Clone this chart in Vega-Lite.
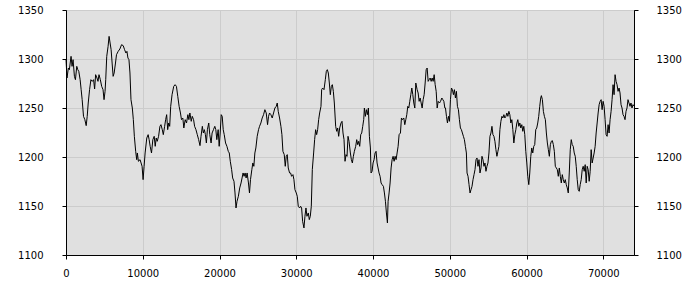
{
  "$schema": "https://vega.github.io/schema/vega-lite/v6.json",
  "width": 568,
  "height": 245,
  "autosize": {"type": "none"},
  "padding": {"left": 66, "top": 10, "right": 66, "bottom": 45},
  "background": "white",
  "config": {
    "view": {"stroke": "#000", "strokeWidth": 1, "fill": "#e0e0e0"},
    "axis": {
      "labelFont": "DejaVu Sans", "labelFontSize": 10, "labelColor": "#000",
      "domainColor": "#000", "tickColor": "#000", "tickSize": 4,
      "gridColor": "#cccccc", "gridWidth": 1, "title": null
    }
  },
  "data": {"values": [
    {"x":0,"v":1299.3},{"x":132,"v":1280.6},{"x":307,"v":1290.8},{"x":439,"v":1289.1},{"x":658,"v":1302.7},{"x":789,"v":1292.5},{"x":921,"v":1299.3},{"x":1097,"v":1282.3},{"x":1228,"v":1278.9},{"x":1404,"v":1292.5},{"x":1535,"v":1289.1},{"x":1667,"v":1287.4},{"x":1842,"v":1278.9},{"x":1974,"v":1268.7},{"x":2105,"v":1258.5},{"x":2281,"v":1241.5},{"x":2456,"v":1238.1},{"x":2632,"v":1232},{"x":2763,"v":1241.5},{"x":2895,"v":1255.1},{"x":3070,"v":1268.7},{"x":3246,"v":1278.9},{"x":3421,"v":1277.2},{"x":3597,"v":1278.9},{"x":3728,"v":1269.4},{"x":3860,"v":1284},{"x":4035,"v":1280.6},{"x":4167,"v":1277.2},{"x":4298,"v":1284},{"x":4474,"v":1278.9},{"x":4649,"v":1272.1},{"x":4825,"v":1268.7},{"x":4956,"v":1258.5},{"x":5088,"v":1267},{"x":5175,"v":1278.9},{"x":5307,"v":1302.7},{"x":5483,"v":1312.9},{"x":5614,"v":1323.1},{"x":5746,"v":1316.3},{"x":5877,"v":1309.5},{"x":6009,"v":1295.9},{"x":6140,"v":1282.3},{"x":6272,"v":1285.7},{"x":6447,"v":1295.9},{"x":6579,"v":1304.4},{"x":6798,"v":1307.8},{"x":7018,"v":1310.2},{"x":7237,"v":1314.6},{"x":7456,"v":1313.6},{"x":7632,"v":1309.5},{"x":7807,"v":1306.1},{"x":7939,"v":1307.8},{"x":8070,"v":1301},{"x":8202,"v":1299.3},{"x":8333,"v":1285.7},{"x":8465,"v":1258.5},{"x":8640,"v":1250},{"x":8772,"v":1238.1},{"x":8904,"v":1221.1},{"x":9079,"v":1205.8},{"x":9211,"v":1197.3},{"x":9298,"v":1204.1},{"x":9430,"v":1195.6},{"x":9649,"v":1197.3},{"x":9781,"v":1193.9},{"x":9912,"v":1190.5},{"x":10044,"v":1176.9},{"x":10176,"v":1190.5},{"x":10307,"v":1204.1},{"x":10526,"v":1219.4},{"x":10702,"v":1222.8},{"x":10833,"v":1217.7},{"x":10965,"v":1210.9},{"x":11140,"v":1204.1},{"x":11316,"v":1217.7},{"x":11491,"v":1221.1},{"x":11623,"v":1210.9},{"x":11754,"v":1219.4},{"x":11886,"v":1216},{"x":12062,"v":1221.1},{"x":12237,"v":1231.3},{"x":12369,"v":1233},{"x":12544,"v":1227.9},{"x":12676,"v":1222.8},{"x":12851,"v":1231.3},{"x":12983,"v":1238.1},{"x":13114,"v":1243.2},{"x":13246,"v":1227.9},{"x":13377,"v":1234.7},{"x":13509,"v":1231.3},{"x":13640,"v":1251.7},{"x":13816,"v":1263.6},{"x":14035,"v":1272.1},{"x":14211,"v":1273.8},{"x":14386,"v":1272.1},{"x":14562,"v":1261.9},{"x":14737,"v":1251.7},{"x":14912,"v":1244.9},{"x":15044,"v":1238.1},{"x":15219,"v":1239.8},{"x":15351,"v":1229.6},{"x":15526,"v":1238.1},{"x":15702,"v":1234.7},{"x":15877,"v":1243.2},{"x":16009,"v":1238.1},{"x":16140,"v":1244.9},{"x":16316,"v":1236.4},{"x":16448,"v":1241.5},{"x":16623,"v":1238.1},{"x":16755,"v":1231.3},{"x":16930,"v":1227.9},{"x":17105,"v":1222.8},{"x":17281,"v":1217.7},{"x":17456,"v":1211.6},{"x":17588,"v":1221.1},{"x":17763,"v":1231.3},{"x":17895,"v":1224.5},{"x":18026,"v":1227.9},{"x":18158,"v":1222.8},{"x":18290,"v":1214.3},{"x":18421,"v":1227.9},{"x":18597,"v":1234.7},{"x":18728,"v":1222.8},{"x":18904,"v":1214.3},{"x":19035,"v":1224.5},{"x":19211,"v":1227.9},{"x":19386,"v":1231.3},{"x":19518,"v":1227.9},{"x":19649,"v":1217.7},{"x":19825,"v":1227.9},{"x":19956,"v":1210.9},{"x":20088,"v":1224.5},{"x":20219,"v":1243.2},{"x":20351,"v":1241.5},{"x":20483,"v":1227.9},{"x":20614,"v":1222.8},{"x":20790,"v":1214.3},{"x":20965,"v":1210.9},{"x":21141,"v":1205.8},{"x":21272,"v":1204.1},{"x":21404,"v":1195.6},{"x":21579,"v":1187.1},{"x":21711,"v":1178.6},{"x":21886,"v":1175.2},{"x":22018,"v":1163.3},{"x":22149,"v":1148},{"x":22281,"v":1154.8},{"x":22456,"v":1159.9},{"x":22632,"v":1168.4},{"x":22807,"v":1173.5},{"x":22939,"v":1178.6},{"x":23070,"v":1183.7},{"x":23202,"v":1180.3},{"x":23334,"v":1183.7},{"x":23465,"v":1178.6},{"x":23597,"v":1183.7},{"x":23772,"v":1173.5},{"x":23904,"v":1163.3},{"x":24035,"v":1176.9},{"x":24211,"v":1187.1},{"x":24342,"v":1193.9},{"x":24474,"v":1190.5},{"x":24605,"v":1204.1},{"x":24737,"v":1209.2},
    {"x":24910,"v":1221.1},{"x":25085,"v":1227.9},{"x":25215,"v":1231.3},{"x":25389,"v":1234.7},{"x":25563,"v":1239.8},{"x":25737,"v":1243.2},{"x":25911,"v":1248.3},{"x":26085,"v":1244.9},{"x":26259,"v":1233},{"x":26390,"v":1241.5},{"x":26520,"v":1244.9},{"x":26694,"v":1243.2},{"x":26868,"v":1239.8},{"x":27042,"v":1244.9},{"x":27216,"v":1250},{"x":27390,"v":1251.7},{"x":27521,"v":1255.1},{"x":27651,"v":1246.6},{"x":27825,"v":1239.8},{"x":27999,"v":1231.3},{"x":28130,"v":1222.8},{"x":28260,"v":1205.8},{"x":28434,"v":1202.4},{"x":28565,"v":1190.5},{"x":28695,"v":1200.7},{"x":28826,"v":1202.4},{"x":28956,"v":1188.8},{"x":29130,"v":1183.7},{"x":29261,"v":1183.7},{"x":29391,"v":1180.3},{"x":29565,"v":1182},{"x":29696,"v":1176.9},{"x":29826,"v":1166.7},{"x":30000,"v":1163.3},{"x":30131,"v":1159.9},{"x":30261,"v":1149.7},{"x":30435,"v":1148},{"x":30566,"v":1149.7},{"x":30696,"v":1148},{"x":30827,"v":1134.4},{"x":31001,"v":1127.6},{"x":31131,"v":1139.5},{"x":31262,"v":1148},{"x":31392,"v":1139.5},{"x":31566,"v":1142.9},{"x":31697,"v":1136.1},{"x":31827,"v":1139.5},{"x":31958,"v":1149.7},{"x":32088,"v":1187.1},{"x":32262,"v":1204.1},{"x":32393,"v":1217.7},{"x":32523,"v":1227.9},{"x":32654,"v":1222.8},{"x":32784,"v":1227.9},{"x":32915,"v":1238.1},{"x":33045,"v":1244.9},{"x":33219,"v":1251.7},{"x":33306,"v":1268.7},{"x":33437,"v":1270.4},{"x":33611,"v":1268.7},{"x":33785,"v":1278.9},{"x":33915,"v":1287.4},{"x":34046,"v":1289.1},{"x":34176,"v":1285.7},{"x":34307,"v":1275.5},{"x":34437,"v":1263.6},{"x":34568,"v":1272.1},{"x":34698,"v":1273.8},{"x":34829,"v":1267},{"x":34959,"v":1255.1},{"x":35133,"v":1231.3},{"x":35264,"v":1226.2},{"x":35394,"v":1229.6},{"x":35525,"v":1221.1},{"x":35655,"v":1229.6},{"x":35829,"v":1234.7},{"x":35960,"v":1236.4},{"x":36090,"v":1224.5},{"x":36221,"v":1217.7},{"x":36351,"v":1195.6},{"x":36482,"v":1202.4},{"x":36612,"v":1200.7},{"x":36743,"v":1221.1},{"x":36873,"v":1216},{"x":37047,"v":1204.1},{"x":37178,"v":1197.3},{"x":37308,"v":1193.9},{"x":37439,"v":1200.7},{"x":37569,"v":1205.8},{"x":37743,"v":1210.9},{"x":37874,"v":1217.7},{"x":38004,"v":1212.6},{"x":38135,"v":1216},{"x":38265,"v":1210.9},{"x":38396,"v":1222.8},{"x":38526,"v":1224.5},{"x":38657,"v":1231.3},{"x":38787,"v":1238.1},{"x":38874,"v":1250},{"x":39005,"v":1241.5},{"x":39135,"v":1248.3},{"x":39266,"v":1243.2},{"x":39396,"v":1250},{"x":39527,"v":1221.1},{"x":39657,"v":1209.2},{"x":39744,"v":1183.7},{"x":39875,"v":1185.4},{"x":40005,"v":1193.9},{"x":40136,"v":1197.3},{"x":40266,"v":1204.1},{"x":40397,"v":1205.8},{"x":40527,"v":1193.9},{"x":40658,"v":1188.8},{"x":40788,"v":1183.7},{"x":40919,"v":1180.3},{"x":41049,"v":1173.5},{"x":41180,"v":1171.8},{"x":41354,"v":1170.1},{"x":41484,"v":1163.3},{"x":41615,"v":1154.8},{"x":41745,"v":1142.9},{"x":41876,"v":1132.7},{"x":41963,"v":1154.8},{"x":42093,"v":1163.3},{"x":42224,"v":1173.5},{"x":42354,"v":1188.8},{"x":42485,"v":1197.3},{"x":42615,"v":1200.7},{"x":42746,"v":1195.6},{"x":42876,"v":1200.7},{"x":43007,"v":1197.3},{"x":43137,"v":1204.1},{"x":43268,"v":1210.9},{"x":43398,"v":1222.8},{"x":43572,"v":1224.5},{"x":43703,"v":1239.8},{"x":43833,"v":1238.1},{"x":44007,"v":1239.8},{"x":44138,"v":1233},{"x":44268,"v":1238.1},{"x":44399,"v":1243.2},{"x":44529,"v":1251.7},{"x":44660,"v":1250},{"x":44790,"v":1256.8},{"x":44921,"v":1263.6},{"x":45051,"v":1270.4},{"x":45182,"v":1263.6},{"x":45312,"v":1255.1},{"x":45443,"v":1250},{"x":45573,"v":1275.5},{"x":45747,"v":1268.7},{"x":45878,"v":1265.3},{"x":46008,"v":1256.8},{"x":46139,"v":1260.2},{"x":46269,"v":1255.1},{"x":46400,"v":1250},{"x":46530,"v":1258.5},{"x":46661,"v":1263.6},{"x":46791,"v":1275.5},{"x":46922,"v":1289.1},{"x":47052,"v":1290.8},{"x":47183,"v":1277.2},{"x":47313,"v":1278.9},{"x":47444,"v":1280.6},{"x":47574,"v":1277.2},{"x":47705,"v":1280.6},{"x":47835,"v":1277.2},{"x":47966,"v":1284},{"x":48096,"v":1273.8},{"x":48227,"v":1267},{"x":48357,"v":1250},{"x":48488,"v":1256.8},{"x":48662,"v":1255.1},{"x":48792,"v":1256.8},{"x":48966,"v":1260.2},{"x":49097,"v":1258.5},{"x":49227,"v":1256.8},{"x":49358,"v":1250},
    {"x":49438,"v":1250},{"x":49568,"v":1241.5},{"x":49697,"v":1234.7},{"x":49827,"v":1241.5},{"x":49957,"v":1236.4},{"x":50086,"v":1258.5},{"x":50216,"v":1270.4},{"x":50346,"v":1268.7},{"x":50476,"v":1263.6},{"x":50605,"v":1268.7},{"x":50735,"v":1260.2},{"x":50865,"v":1267},{"x":50995,"v":1251.7},{"x":51124,"v":1248.3},{"x":51254,"v":1238.1},{"x":51384,"v":1229.6},{"x":51513,"v":1227.9},{"x":51643,"v":1224.5},{"x":51773,"v":1221.1},{"x":51903,"v":1217.7},{"x":52032,"v":1210.9},{"x":52162,"v":1204.1},{"x":52248,"v":1183.7},{"x":52378,"v":1180.3},{"x":52508,"v":1171.8},{"x":52638,"v":1163.3},{"x":52767,"v":1166.7},{"x":52897,"v":1170.1},{"x":53027,"v":1176.9},{"x":53157,"v":1182},{"x":53286,"v":1187.1},{"x":53416,"v":1197.3},{"x":53546,"v":1199},{"x":53675,"v":1190.5},{"x":53805,"v":1197.3},{"x":53935,"v":1183.7},{"x":54065,"v":1188.8},{"x":54194,"v":1200.7},{"x":54324,"v":1197.3},{"x":54454,"v":1190.5},{"x":54583,"v":1193.9},{"x":54713,"v":1185.4},{"x":54843,"v":1190.5},{"x":54973,"v":1193.9},{"x":55102,"v":1204.1},{"x":55232,"v":1221.1},{"x":55362,"v":1224.5},{"x":55492,"v":1231.3},{"x":55621,"v":1222.8},{"x":55751,"v":1221.1},{"x":55881,"v":1216},{"x":56010,"v":1207.5},{"x":56140,"v":1200.7},{"x":56270,"v":1205.8},{"x":56400,"v":1210.9},{"x":56529,"v":1227.9},{"x":56659,"v":1236.4},{"x":56789,"v":1241.5},{"x":56918,"v":1239.8},{"x":57048,"v":1243.2},{"x":57178,"v":1239.8},{"x":57308,"v":1241.5},{"x":57437,"v":1244.9},{"x":57567,"v":1241.5},{"x":57697,"v":1246.6},{"x":57826,"v":1243.2},{"x":57956,"v":1234.7},{"x":58086,"v":1238.1},{"x":58216,"v":1227.9},{"x":58345,"v":1214.3},{"x":58475,"v":1222.8},{"x":58605,"v":1227.9},{"x":58735,"v":1234.7},{"x":58864,"v":1238.1},{"x":58994,"v":1231.3},{"x":59124,"v":1234.7},{"x":59253,"v":1229.6},{"x":59383,"v":1233},{"x":59513,"v":1226.2},{"x":59643,"v":1231.3},{"x":59772,"v":1222.8},{"x":59902,"v":1205.8},{"x":60032,"v":1193.9},{"x":60161,"v":1180.3},{"x":60291,"v":1171.8},{"x":60421,"v":1183.7},{"x":60551,"v":1200.7},{"x":60680,"v":1209.2},{"x":60810,"v":1204.1},{"x":60940,"v":1210.9},{"x":61069,"v":1212.6},{"x":61199,"v":1227.9},{"x":61329,"v":1229.6},{"x":61459,"v":1234.7},{"x":61588,"v":1241.5},{"x":61718,"v":1251.7},{"x":61848,"v":1260.2},{"x":61934,"v":1262.6},{"x":62064,"v":1258.5},{"x":62194,"v":1246.6},{"x":62324,"v":1241.5},{"x":62453,"v":1238.1},{"x":62583,"v":1224.5},{"x":62713,"v":1214.3},{"x":62842,"v":1207.5},{"x":62972,"v":1200.7},{"x":63102,"v":1212.6},{"x":63231,"v":1216},{"x":63361,"v":1216.7},{"x":63491,"v":1212.6},{"x":63621,"v":1205.8},{"x":63750,"v":1190.5},{"x":63880,"v":1188.8},{"x":64010,"v":1187.1},{"x":64139,"v":1180.3},{"x":64269,"v":1188.8},{"x":64399,"v":1180.3},{"x":64529,"v":1173.5},{"x":64658,"v":1182},{"x":64788,"v":1176.9},{"x":64918,"v":1173.5},{"x":65047,"v":1176.9},{"x":65177,"v":1171.8},{"x":65307,"v":1168.4},{"x":65437,"v":1163.3},{"x":65566,"v":1183.7},{"x":65696,"v":1207.5},{"x":65826,"v":1217.7},{"x":65955,"v":1212.6},{"x":66085,"v":1210.9},{"x":66215,"v":1204.1},{"x":66345,"v":1200.7},{"x":66474,"v":1190.5},{"x":66604,"v":1176.9},{"x":66734,"v":1166.7},{"x":66864,"v":1165},{"x":66993,"v":1171.8},{"x":67123,"v":1176.9},{"x":67253,"v":1187.1},{"x":67382,"v":1190.5},{"x":67512,"v":1185.4},{"x":67642,"v":1192.2},{"x":67772,"v":1173.5},{"x":67901,"v":1190.5},{"x":68031,"v":1187.1},{"x":68161,"v":1175.2},{"x":68290,"v":1185.4},{"x":68420,"v":1207.5},{"x":68550,"v":1193.9},{"x":68680,"v":1199},{"x":68809,"v":1204.1},{"x":68939,"v":1210.9},{"x":69069,"v":1224.5},{"x":69198,"v":1234.7},{"x":69328,"v":1244.9},{"x":69458,"v":1253.4},{"x":69588,"v":1256.8},{"x":69717,"v":1258.5},{"x":69847,"v":1248.3},{"x":69977,"v":1256.8},{"x":70106,"v":1251.7},{"x":70236,"v":1238.1},{"x":70366,"v":1222.8},{"x":70496,"v":1221.1},{"x":70625,"v":1233},{"x":70755,"v":1224.5},{"x":70885,"v":1238.1},{"x":71014,"v":1246.6},{"x":71144,"v":1258.5},{"x":71274,"v":1273.8},{"x":71404,"v":1263.6},{"x":71533,"v":1284},{"x":71663,"v":1277.2},{"x":71793,"v":1273.8},{"x":71922,"v":1267},{"x":72052,"v":1270.4},{"x":72182,"v":1265.3},{"x":72312,"v":1253.4},{"x":72441,"v":1250},{"x":72571,"v":1243.2},{"x":72701,"v":1241.5},{"x":72831,"v":1238.1},{"x":72960,"v":1246.6},{"x":73090,"v":1250},{"x":73220,"v":1258.5},{"x":73349,"v":1255.1},{"x":73479,"v":1251.7},{"x":73609,"v":1255.1},{"x":73739,"v":1250},{"x":73868,"v":1253.4},{"x":74000,"v":1252}
  ]},
  "encoding": {
    "x": {"field": "x", "type": "quantitative", "scale": {"domain": [0, 74000], "nice": false, "zero": false},
          "axis": {"values": [0,10000,20000,30000,40000,50000,60000,70000], "format": "d", "labelPadding": 9, "grid": true, "labelFlush": false}}
  },
  "layer": [
    {
      "mark": {"type": "line", "color": "#000", "strokeWidth": 1, "interpolate": "linear"},
      "encoding": {
        "y": {"field": "v", "type": "quantitative", "scale": {"domain": [1100, 1350], "nice": false, "zero": false},
              "axis": {"orient": "left", "values": [1100,1150,1200,1250,1300,1350], "format": "d", "labelPadding": 19, "grid": true}}
      }
    },
    {
      "mark": {"type": "line", "opacity": 0, "strokeWidth": 1},
      "encoding": {
        "y": {"field": "v", "type": "quantitative", "scale": {"domain": [1100, 1350], "nice": false, "zero": false},
              "axis": {"orient": "right", "values": [1100,1150,1200,1250,1300,1350], "format": "d", "labelPadding": 18, "grid": false}}
      }
    }
  ],
  "resolve": {"axis": {"y": "independent"}}
}
